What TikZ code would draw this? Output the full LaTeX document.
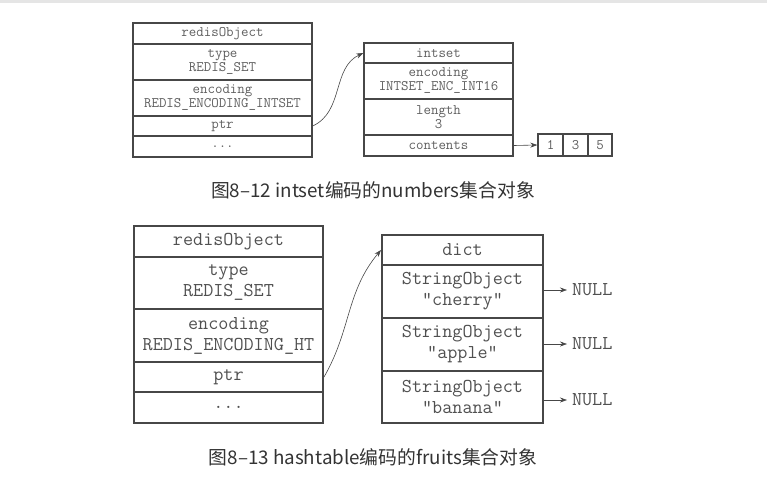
\documentclass[tikz,border=0pt]{standalone}
\usepackage{fontspec}
\newfontfamily\cjkfont{Noto Sans CJK SC}
\usetikzlibrary{arrows.meta}
\definecolor{boxline}{HTML}{474747}
\definecolor{boxtext}{HTML}{5E5E5E}
\definecolor{captext}{HTML}{333333}
\tikzset{
  cellA/.style={draw=boxline, line width=1.4pt, text=boxtext, align=center, inner sep=0pt,
    font=\ttfamily\fontsize{14.5}{14}\selectfont},
  cellB/.style={draw=boxline, line width=2pt, text=boxtext!85!black, align=center, inner sep=0pt,
    font=\ttfamily\fontsize{19.6}{21}\selectfont},
  ptrarrow/.style={draw=boxline, line width=0.6pt, -{Stealth[length=7pt,width=5pt]}},
  caption/.style={text=captext, font=\cjkfont\fontsize{18.8}{20}\selectfont},
}
\begin{document}
\begin{tikzpicture}[x=1pt, y=-1pt]
  \useasboundingbox (0,0) rectangle (767,496);
  \fill[black!10] (0,0) rectangle (767,3);

  % intset
  \node[cellA, minimum width=179pt, minimum height=21pt] (robjA) at (222.5,33.5) {redisObject};
  \node[cellA, minimum width=179pt, minimum height=36pt] (typeA) at (222.5,62) {type\\REDIS\_SET};
  \node[cellA, minimum width=179pt, minimum height=36pt] (encA) at (222.5,98) {encoding\\REDIS\_ENCODING\_INTSET};
  \node[cellA, minimum width=179pt, minimum height=20pt] (ptrA) at (222.5,126) {ptr};
  \node[cellA, minimum width=179pt, minimum height=21pt] (dotsA) at (222.5,146.5) {...};

  \node[cellA, minimum width=149pt, minimum height=20pt] (intset) at (438.5,53) {intset};
  \node[cellA, minimum width=149pt, minimum height=36pt] (isenc) at (438.5,81) {encoding\\INTSET\_ENC\_INT16};
  \node[cellA, minimum width=149pt, minimum height=36pt] (islen) at (438.5,117) {length\\3};
  \node[cellA, minimum width=149pt, minimum height=21pt] (iscont) at (438.5,145.5) {contents};

  \node[cellA, minimum width=25pt, minimum height=22pt] (num1) at (550.5,145) {1};
  \node[cellA, minimum width=25pt, minimum height=22pt] (num3) at (575.5,145) {3};
  \node[cellA, minimum width=24pt, minimum height=22pt] (num5) at (600,145) {5};

  \draw[ptrarrow] (ptrA.east) to[out=25, in=205] (intset.west);
  \draw[ptrarrow] (iscont.east) -- (num1.west);

  \node[caption] (capA) at (373,190) {图8–12 intset编码的numbers集合对象};

  % hashtable
  \node[cellB, minimum width=189pt, minimum height=31pt] (robjB) at (228.5,241.5) {redisObject};
  \node[cellB, minimum width=189pt, minimum height=52pt] (typeB) at (228.5,283) {type\\REDIS\_SET};
  \node[cellB, minimum width=189pt, minimum height=53pt] (encB) at (228.5,335.5) {encoding\\REDIS\_ENCODING\_HT};
  \node[cellB, minimum width=189pt, minimum height=30pt] (ptrB) at (228.5,377) {ptr};
  \node[cellB, minimum width=189pt, minimum height=31pt] (dotsB) at (228.5,407.5) {...};

  \node[cellB, minimum width=161pt, minimum height=30pt] (dict) at (462.5,250) {dict};
  \node[cellB, minimum width=161pt, minimum height=53pt] (cherry) at (462.5,291.5) {StringObject\\"cherry"};
  \node[cellB, minimum width=161pt, minimum height=53pt] (apple) at (462.5,344.5) {StringObject\\"apple"};
  \node[cellB, minimum width=161pt, minimum height=52pt] (banana) at (462.5,397) {StringObject\\"banana"};

  \node[cellB, draw=none, inner xsep=4pt, anchor=west] (nullA) at (567,290) {NULL};
  \node[cellB, draw=none, inner xsep=4pt, anchor=west] (nullB) at (567,344) {NULL};
  \node[cellB, draw=none, inner xsep=4pt, anchor=west] (nullC) at (567,400) {NULL};

  \draw[ptrarrow] (ptrB.east) to[out=60, in=230] (dict.west);
  \draw[ptrarrow] (cherry.east |- nullA) -- (nullA.west);
  \draw[ptrarrow] (apple.east |- nullB) -- (nullB.west);
  \draw[ptrarrow] (banana.east |- nullC) -- (nullC.west);

  \node[caption] (capB) at (373,457) {图8–13 hashtable编码的fruits集合对象};
\end{tikzpicture}
\end{document}
